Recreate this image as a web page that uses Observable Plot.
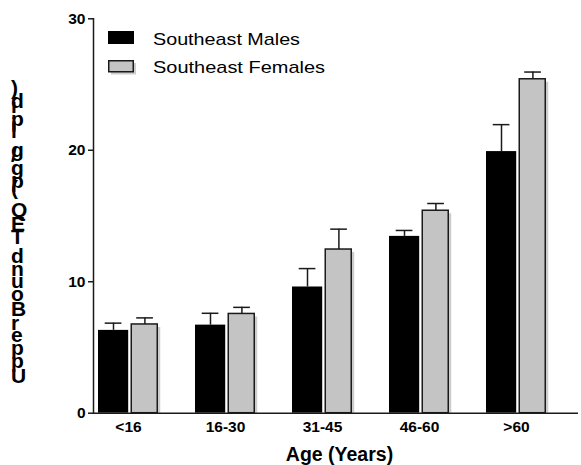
<!DOCTYPE html>
<html>
<head>
<meta charset="utf-8">
<script src="https://cdn.jsdelivr.net/npm/d3@7"></script>
<script src="https://cdn.jsdelivr.net/npm/@observablehq/plot@0.6"></script>
<style>
  html, body { margin: 0; padding: 0; background: white; }
  #chart { width: 581px; height: 465px; }
</style>
</head>
<body>
<div id="chart"></div>
<script>
const ages = ["<16", "16-30", "31-45", "46-60", ">60"];
const maleMean = [6.3, 6.7, 9.6, 13.45, 19.9];
const maleErr = [0.55, 0.9, 1.4, 0.45, 2.05];
const femaleMean = [6.75, 7.55, 12.45, 15.4, 25.4];
const femaleErr = [0.5, 0.5, 1.55, 0.55, 0.55];
const seriesNames = ["Southeast Males", "Southeast Females"];
const yTicks = [0, 10, 20, 30];
const xTitle = "Age (Years)";
const yTitle = "Upper Bound TEQ (pg/g lipid)";

const males = ages.map((a, i) => ({age: a, mean: maleMean[i], top: maleMean[i] + maleErr[i]}));
const females = ages.map((a, i) => ({age: a, mean: femaleMean[i], top: femaleMean[i] + femaleErr[i]}));

const FONT = "'Liberation Sans', Arial, Helvetica, sans-serif";
const GREY = "#c4c4c4";
const DARK = "#1a1a1a";

const plot = Plot.plot({
  width: 581,
  height: 465,
  marginLeft: 93,
  marginRight: 3,
  marginTop: 18.3,
  marginBottom: 52.3,
  style: {fontFamily: FONT, background: "white", color: "black"},
  x: {domain: ages, range: [78.2, 566.2], paddingInner: 0.382, paddingOuter: 0.191, label: null},
  y: {domain: [0, 30], label: null},
  marks: [
    // female bar shadow
    Plot.barY(females, {x: "age", y: "mean", fill: "#cdcdcd", insetLeft: 33.25, insetRight: 0.75, insetTop: 3, dx: 3}),
    Plot.barY(males, {x: "age", y: "mean", fill: "black", insetRight: 29.8}),
    Plot.barY(females, {x: "age", y: "mean", fill: GREY, stroke: DARK, strokeWidth: 1.5, insetLeft: 33.25, insetRight: 0.75}),
    // error bars
    Plot.ruleX(males, {x: "age", y1: "mean", y2: "top", dx: -15, stroke: DARK, strokeWidth: 1.5}),
    Plot.tickY(males, {x: "age", y: "top", insetLeft: 6.7, insetRight: 36.6, stroke: DARK, strokeWidth: 1.5}),
    Plot.ruleX(females, {x: "age", y1: "mean", y2: "top", dx: 16.4, stroke: DARK, strokeWidth: 1.5}),
    Plot.tickY(females, {x: "age", y: "top", insetLeft: 38.2, insetRight: 5.1, stroke: DARK, strokeWidth: 1.5}),
    // axes
    Plot.ruleY([0], {stroke: DARK, strokeWidth: 1.5}),
    Plot.frame({anchor: "left", stroke: DARK, strokeWidth: 1.5}),
    Plot.axisY({ticks: yTicks, tickSize: 5, tickPadding: 3, fontSize: 15.5, fontWeight: "bold", stroke: DARK, strokeWidth: 1.5, label: null}),
    Plot.axisX({tickSize: 0, tickPadding: 8, fontSize: 15.5, fontWeight: "bold", label: null})
  ]
});

document.getElementById("chart").appendChild(plot);

const svg = d3.select(plot);

// x-axis title
svg.append("text")
  .attr("x", 339.5).attr("y", 460.5)
  .attr("text-anchor", "middle")
  .attr("font-family", FONT).attr("font-size", 19.5).attr("font-weight", "bold")
  .attr("fill", "black")
  .text(xTitle);

// y-axis title: stacked upright glyphs, reading bottom-to-top
svg.append("text")
  .attr("transform", "translate(11,383) rotate(-90)")
  .attr("rotate", 90)
  .attr("text-anchor", "start")
  .attr("font-family", FONT).attr("font-size", 21).attr("font-weight", "bold")
  .attr("fill", "black")
  .text(yTitle);

// legend
const leg = svg.append("g").attr("font-family", FONT).attr("font-size", 17).attr("text-anchor", "start");
leg.append("rect").attr("x", 108).attr("y", 31).attr("width", 26).attr("height", 13).attr("fill", "black");
leg.append("text").attr("x", 153).attr("y", 45).attr("fill", "black")
  .attr("textLength", 147).attr("lengthAdjust", "spacingAndGlyphs").text(seriesNames[0]);
leg.append("rect").attr("x", 111).attr("y", 63).attr("width", 25).attr("height", 11.5).attr("fill", "#cdcdcd");
leg.append("rect").attr("x", 108.75).attr("y", 60.75).attr("width", 24.5).attr("height", 11).attr("fill", GREY)
  .attr("stroke", DARK).attr("stroke-width", 1.5);
leg.append("text").attr("x", 153).attr("y", 72.7).attr("fill", "black")
  .attr("textLength", 172).attr("lengthAdjust", "spacingAndGlyphs").text(seriesNames[1]);
</script>
</body>
</html>
